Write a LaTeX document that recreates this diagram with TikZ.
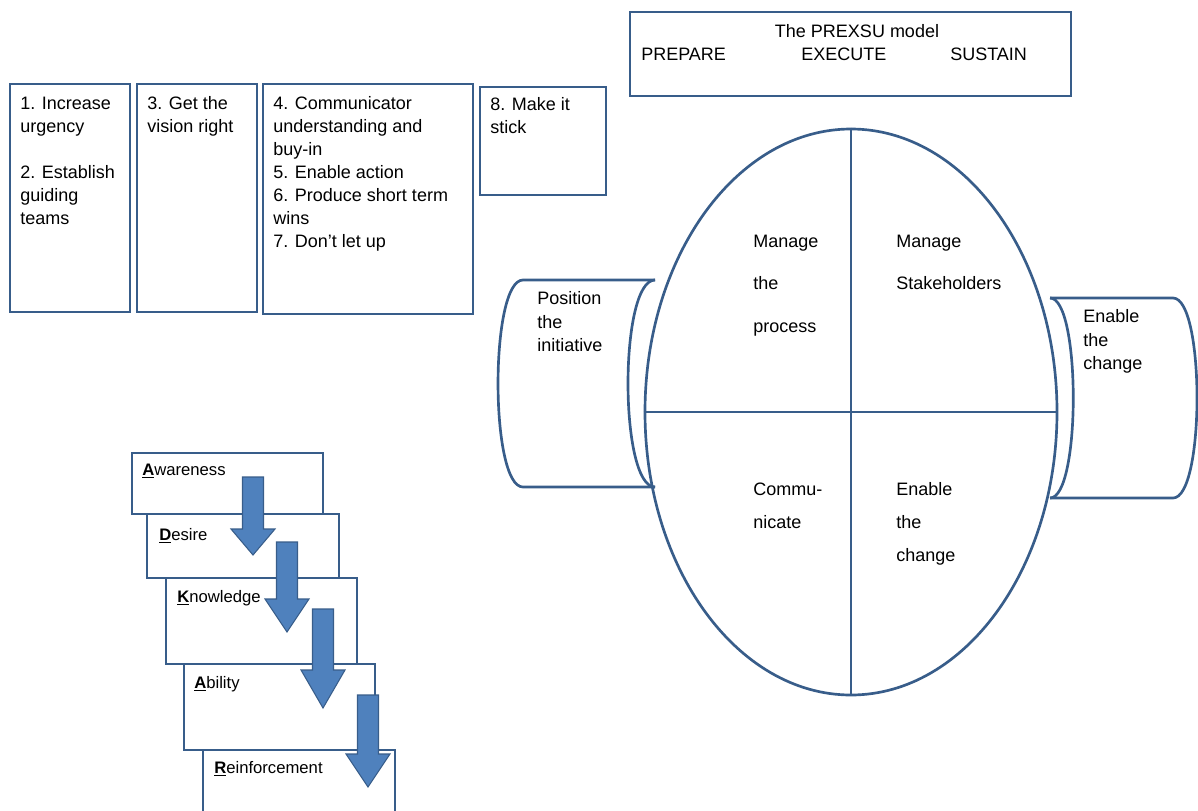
\documentclass[tikz,border=0pt]{standalone}
\usepackage{fontspec}
\setmainfont{Liberation Sans}
\usetikzlibrary{fit,shapes.geometric}
\definecolor{lncol}{HTML}{385D8A}
\definecolor{arrcol}{HTML}{4F81BD}
\newcommand\fbig{\fontsize{13.5pt}{17.25pt}\selectfont}
\newcommand\fside{\fontsize{13.5pt}{17.8pt}\selectfont}
\newcommand\fellA{\fontsize{13.5pt}{31.9pt}\selectfont}
\newcommand\fellB{\fontsize{13.5pt}{24.8pt}\selectfont}
\newcommand\fsmall{\fontsize{12.5pt}{15pt}\selectfont}
\newcommand\adkfirst[1]{\textbf{\underline{#1}}}
\newcommand\dnarrow[4]{%
  \filldraw[fill=arrcol, draw=lncol, line width=0.8pt]
    (#1-10.5,#2) -- (#1+10.5,#2) -- (#1+10.5,#3-#4) -- (#1+22,#3-#4) --
    (#1,#3) -- (#1-22,#3-#4) -- (#1-10.5,#3-#4) -- cycle;}
\begin{document}
\begin{tikzpicture}[x=0.75pt,y=-0.75pt,
  box/.style={rectangle, draw=lncol, line width=2pt, fill=white, inner sep=0pt},
  txt/.style={inner sep=0pt, anchor=north west, align=left, font=\fbig},
  lbl/.style={inner sep=0pt, anchor=base west, font=\fbig},
  adk/.style={inner sep=0pt, anchor=base west, font=\fsmall},
  outline/.style={draw=lncol, line width=2pt}]
\useasboundingbox (0,0) rectangle (1198,810);
\clip (0,0) rectangle (1198,810);

% Kotter boxes
\node[box, fit={(10,84) (130,312)}] (k1) {};
\node[box, fit={(137,84) (257,312)}] (k2) {};
\node[box, fit={(263,84) (473,314)}] (k3) {};
\node[box, fit={(480,87) (606,195)}] (k4) {};
\node[txt] (t1) at (20,92.9) {\strut 1. Increase\\urgency\\[17.25pt]2. Establish\\guiding\\teams};
\node[txt] (t2) at (147,92.9) {\strut 3. Get the\\vision right};
\node[txt] (t3) at (273,92.9) {\strut 4. Communicator\\understanding and\\buy-in\\5. Enable action\\6. Produce short term\\wins\\7. Don't let up};
\node[txt] (t4) at (490,93.9) {\strut 8. Make it\\stick};

% PREXSU box
\node[box, fit={(630,12) (1071,96)}] (px) {};
\node[inner sep=0pt, anchor=base, font=\fbig] (pxt) at (857,37) {The PREXSU model};
\node[lbl] (pp) at (641,60) {PREPARE};
\node[lbl] (pe) at (801,60) {EXECUTE};
\node[lbl] (ps) at (950,60) {SUSTAIN};

% central ellipse
\node[ellipse, outline, inner sep=0pt, minimum width=309pt, minimum height=424.5pt] (ell) at (851,412) {};
\draw[outline] (ell.north) -- (ell.south);
\draw[outline] (ell.west) -- (ell.east);
\node[txt, font=\fellA] (q1) at (753,217.2) {\strut Manage\\the\\process};
\node[txt, font=\fellA] (q2) at (896,217.2) {\strut Manage\\Stakeholders};
\node[txt, font=\fellB] (q3) at (753,471.6) {\strut Commu-\\nicate};
\node[txt, font=\fellB] (q4) at (896,471.6) {\strut Enable\\the\\change};

% left cylinder
\draw[outline] (655,280) -- (523,280)
  .. controls (489.7,280) and (489.7,487) .. (523,487) -- (655,487);
\draw[outline] (655,280) .. controls (619,280) and (619,487) .. (655,487);
\node[txt, font=\fside] (cl) at (537,287.4) {\strut Position\\the\\initiative};

% right cylinder
\draw[outline] (1050,298) -- (1173,298)
  .. controls (1205,298) and (1205,498) .. (1173,498) -- (1050,498);
\draw[outline] (1050,298) .. controls (1081,298) and (1081,498) .. (1050,498);
\node[txt, font=\fside] (cr) at (1083,305.4) {\strut Enable\\the\\change};

% ADKAR stack
\node[box, fit={(132,453) (323,514)}] (aw) {};
\node[box, fit={(147,514) (339,578)}] (de) {};
\node[box, fit={(166,578) (357,664)}] (kn) {};
\node[box, fit={(184,664) (375,750)}] (ab) {};
\node[box, fit={(203,750) (395,840)}] (re) {};
\node[adk] (taw) at (142,475) {\adkfirst{A}wareness};
\node[adk] (tde) at (159,540) {\adkfirst{D}esire};
\node[adk] (tkn) at (177,602) {\adkfirst{K}nowledge};
\node[adk] (tab) at (194,688) {\adkfirst{A}bility};
\node[adk] (tre) at (214,773) {\adkfirst{R}einforcement};
\dnarrow{253}{477}{555}{26}
\dnarrow{287}{542}{632}{33}
\dnarrow{323}{609}{708}{38}
\dnarrow{368}{695}{787}{33}
\end{tikzpicture}
\end{document}
